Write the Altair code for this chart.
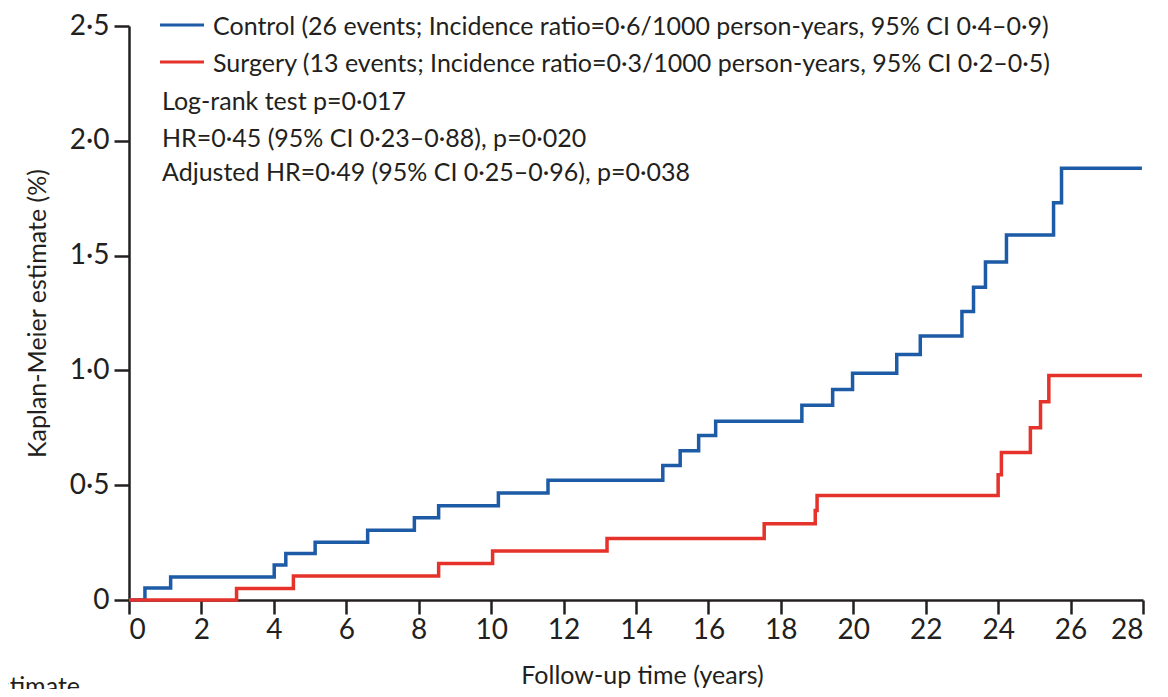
import altair as alt
import pandas as pd

# ---- data ----
control_time = [0, 0.44, 1.15, 4.01, 4.33, 5.14, 6.59, 7.88, 8.55, 10.2, 11.57, 14.74, 15.22,
                15.73, 16.2, 18.58, 19.43, 19.98, 21.2, 21.85, 23.0, 23.32, 23.65, 24.23, 25.53,
                25.75, 27.97]
control_km = [0, 0.052, 0.10, 0.152, 0.202, 0.252, 0.304, 0.358, 0.411, 0.466, 0.522, 0.586, 0.65,
              0.716, 0.779, 0.848, 0.917, 0.988, 1.069, 1.15, 1.257, 1.362, 1.472, 1.59, 1.73,
              1.88, 1.88]
surgery_time = [0, 2.97, 4.54, 8.55, 10.04, 13.2, 17.54, 18.95, 19.0, 24.0, 24.09, 24.89, 25.17,
                25.4, 27.97]
surgery_km = [0, 0.05, 0.105, 0.159, 0.213, 0.268, 0.332, 0.39, 0.455, 0.545, 0.642, 0.75, 0.863,
              0.978, 0.978]

x_ticks = list(range(0, 29, 2))
y_ticks = [0, 0.5, 1.0, 1.5, 2.0, 2.5]

legend_labels = [
    "Control (26 events; Incidence ratio=0·6/1000 person-years, 95% CI 0·4–0·9)",
    "Surgery (13 events; Incidence ratio=0·3/1000 person-years, 95% CI 0·2–0·5)",
]
stats_lines = [
    "Log-rank test p=0·017",
    "HR=0·45 (95% CI 0·23–0·88), p=0·020",
    "Adjusted HR=0·49 (95% CI 0·25–0·96), p=0·038",
]

BLUE = "#1d5ba6"
RED = "#e5322a"
INK = "#231f20"
FONT = "Lato"

# whole svg must stay within 1168 x 697 minus the 8px page margins (1152 x 681)
W, H = 1014, 574
PAD = {"left": 121, "top": 18, "right": 17, "bottom": 89}

ctrl = pd.DataFrame({"t": control_time, "km": control_km, "g": "Control"})
surg = pd.DataFrame({"t": surgery_time, "km": surgery_km, "g": "Surgery"})

xscale = alt.Scale(domain=[0, 28], nice=False, zero=False)
yscale = alt.Scale(domain=[0, 2.5], nice=False)

xaxis = alt.Axis(
    values=x_ticks, title="Follow-up time (years)", grid=False,
    domainColor=INK, domainWidth=2.5, tickColor=INK, tickWidth=2.5, tickSize=14,
    labelFont=FONT, labelFontSize=28, labelColor=INK, labelPadding=2,
    titleFont=FONT, titleFontSize=25, titleFontWeight="normal", titleColor=INK,
    titleX=513, titleY=83, titleBaseline="alphabetic", titleAlign="center",
)
yaxis = alt.Axis(
    values=y_ticks, title="Kaplan-Meier estimate (%)", grid=False,
    labelExpr="datum.value == 0 ? '0' : replace(format(datum.value, '.1f'), '.', '·')",
    domainColor=INK, domainWidth=2.5, tickColor=INK, tickWidth=2.5, tickSize=15,
    labelFont=FONT, labelFontSize=28, labelColor=INK, labelPadding=5,
    titleFont=FONT, titleFontSize=25, titleFontWeight="normal", titleColor=INK,
    titleX=-84, titleY=H / 2, titleAngle=-90, titleBaseline="alphabetic", titleAlign="center",
)

line_ctrl = alt.Chart(ctrl).mark_line(interpolate="step-after", color=BLUE, strokeWidth=3.5).encode(
    x=alt.X("t:Q", scale=xscale, axis=xaxis),
    y=alt.Y("km:Q", scale=yscale, axis=yaxis),
)
line_surg = alt.Chart(surg).mark_line(interpolate="step-after", color=RED, strokeWidth=3.5).encode(
    x=alt.X("t:Q", scale=xscale),
    y=alt.Y("km:Q", scale=yscale),
)

one = pd.DataFrame({"d": [0]})

leg_lines = [
    alt.Chart(one).mark_rule(color=BLUE, strokeWidth=3).encode(
        x=alt.value(31), x2=alt.value(75), y=alt.value(-1)),
    alt.Chart(one).mark_rule(color=RED, strokeWidth=3).encode(
        x=alt.value(31), x2=alt.value(75), y=alt.value(36)),
]
texts = []
for lab, yy in zip(legend_labels, [9, 46]):
    texts.append(alt.Chart(one).mark_text(
        text=lab, align="left", baseline="alphabetic", font=FONT, fontSize=25, color=INK
    ).encode(x=alt.value(84), y=alt.value(yy)))
for lab, yy in zip(stats_lines, [84, 121, 155]):
    texts.append(alt.Chart(one).mark_text(
        text=lab, align="left", baseline="alphabetic", font=FONT, fontSize=25, color=INK
    ).encode(x=alt.value(33), y=alt.value(yy)))

# cut-off word from the next panel at the bottom-left edge of the original figure
texts.append(alt.Chart(one).mark_text(
    text="estimate", align="right", baseline="alphabetic", font=FONT, fontSize=25, color=INK
).encode(x=alt.value(-49), y=alt.value(H + 95)))

chart = alt.layer(line_ctrl, line_surg, *leg_lines, *texts).properties(
    width=W, height=H,
    background="white",
    autosize=alt.AutoSizeParams(type="none"),
    padding=PAD,
).configure_view(stroke=None)

chart.save("out.html", embed_options={"renderer": "svg", "actions": False})
